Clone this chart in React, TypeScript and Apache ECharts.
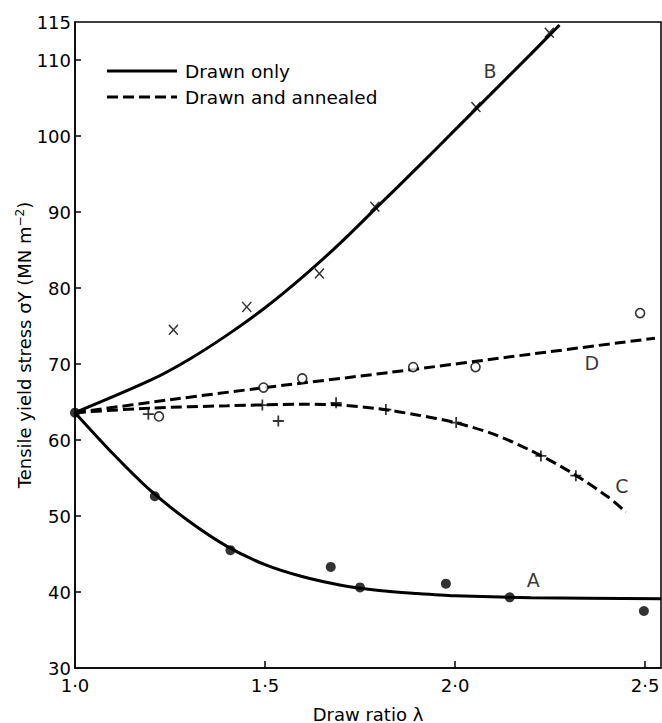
import React, { useEffect, useRef } from "react";
import * as echarts from "echarts";

// Curve (fitted line) samples
const curveAX = [1.0, 1.1, 1.2, 1.3, 1.4, 1.5, 1.6, 1.7, 1.8, 1.9, 2.0, 2.2, 2.542];
const curveAY = [63.6, 58.2, 53.3, 49.3, 46.0, 43.6, 42.0, 40.9, 40.2, 39.8, 39.5, 39.25, 39.1];
const curveBX = [1.0, 1.2, 1.3, 1.4, 1.5, 1.6, 1.7, 1.8, 1.9, 2.0, 2.1, 2.2, 2.275];
const curveBY = [63.6, 67.9, 70.6, 73.8, 77.4, 81.5, 86.0, 90.9, 95.8, 100.8, 105.8, 110.8, 114.6];
const curveCX = [1.0, 1.2, 1.4, 1.6, 1.7, 1.8, 1.9, 2.0, 2.1, 2.2, 2.3, 2.4, 2.45];
const curveCY = [63.6, 64.2, 64.5, 64.7, 64.6, 64.1, 63.3, 62.3, 60.8, 58.6, 55.9, 52.6, 50.5];
const curveDX = [1.0, 1.25, 1.5, 1.829, 2.2, 2.526];
const curveDY = [63.6, 65.3, 66.9, 68.9, 71.3, 73.4];

// Measured points
const pointsAX = [1.0, 1.21, 1.409, 1.673, 1.75, 1.976, 2.144, 2.497];
const pointsAY = [63.6, 52.6, 45.5, 43.3, 40.6, 41.1, 39.3, 37.5];
const pointsBX = [1.259, 1.452, 1.643, 1.789, 2.055, 2.248];
const pointsBY = [74.5, 77.5, 81.9, 90.7, 103.8, 113.6];
const pointsCX = [1.193, 1.493, 1.535, 1.687, 1.818, 2.003, 2.226, 2.318];
const pointsCY = [63.4, 64.6, 62.5, 64.9, 64.0, 62.3, 57.9, 55.3];
const pointsDX = [1.221, 1.496, 1.598, 1.89, 2.054, 2.487];
const pointsDY = [63.1, 66.9, 68.1, 69.6, 69.6, 76.7];

// Curve letter labels
const letterNames = ["A", "B", "C", "D"];
const letterX = [2.206, 2.092, 2.439, 2.36];
const letterY = [41.6, 108.5, 53.9, 70.1];

const xLabelValues = [1.0, 1.5, 2.0, 2.5];
const xTickValues = [1.5, 2.0, 2.5];
const yLabelValues = [30, 40, 50, 60, 70, 80, 90, 100, 110, 115];
const yTickValues = [40, 50, 60, 70, 80, 90, 100, 110];

const legendNames = ["Drawn only", "Drawn and annealed"];

const FONT = "DejaVu Sans";
const DASH = [11, 5];

const zip = (xs: number[], ys: number[]) => xs.map((x, i) => [x, ys[i]]);

const CROSS = "path://M1,0L5,4L9,0L10,1L6,5L10,9L9,10L5,6L1,10L0,9L4,5L0,1Z";
const PLUS = "path://M4.2,0H5.8V4.2H10V5.8H5.8V10H4.2V5.8H0V4.2H4.2Z";

export default function App() {
  const ref = useRef<HTMLDivElement>(null);
  useEffect(() => {
    if (!ref.current) return;
    const chart = echarts.init(ref.current, null, { renderer: "svg" });
    const lineBase = (name: string, xs: number[], ys: number[], dashed: boolean) => ({
      name,
      type: "line",
      data: zip(xs, ys),
      showSymbol: false,
      symbol: "none",
      smooth: 0.3,
      lineStyle: { color: "#000", width: 3, type: dashed ? DASH : "solid" },
      itemStyle: { color: "#000" },
      z: 2,
      silent: true,
    });
    const legendRow = (y: number, text: string, dashed: boolean) => [
      {
        type: "line",
        shape: { x1: 107, y1: y, x2: 177, y2: y },
        style: { stroke: "#000", lineWidth: 3, lineDash: dashed ? DASH : null },
      },
      {
        type: "text",
        x: 185,
        y: y,
        style: {
          text,
          fill: "#000",
          fontSize: 18.5,
          fontFamily: FONT,
          verticalAlign: "middle",
          align: "left",
        },
      },
    ];
    const option: any = {
      animation: false,
      backgroundColor: "#fff",
      grid: {
        left: 75,
        right: 1,
        top: 22,
        bottom: 55,
        outerBoundsMode: "none",
        containLabel: false,
        show: true,
        borderColor: "#000",
        borderWidth: 1.5,
        backgroundColor: "transparent",
      },
      graphic: [...legendRow(71, legendNames[0], false), ...legendRow(97, legendNames[1], true)],
      xAxis: {
        type: "value",
        min: 1.0,
        max: 2.542,
        name: "Draw ratio λ",
        nameLocation: "middle",
        nameGap: 37,
        nameMoveOverlap: false,
        nameTextStyle: { fontSize: 18, color: "#000", fontFamily: FONT },
        axisLine: { show: true, lineStyle: { color: "#000", width: 1.5 } },
        axisTick: {
          show: true,
          inside: true,
          length: 7,
          customValues: xTickValues,
          lineStyle: { color: "#000", width: 1.5 },
        },
        axisLabel: {
          customValues: xLabelValues,
          formatter: (v: number) => v.toFixed(1).replace(".", "·"),
          color: "#000",
          fontSize: 18,
          fontFamily: FONT,
          margin: 8,
        },
        splitLine: { show: false },
      },
      yAxis: {
        type: "value",
        min: 30,
        max: 115,
        name: "Tensile yield stress σY (MN m{sup|−2})",
        nameLocation: "middle",
        nameGap: 41,
        nameMoveOverlap: false,
        nameRotate: 90,
        nameTextStyle: {
          fontSize: 18,
          color: "#000",
          fontFamily: FONT,
          rich: {
            sup: { fontSize: 12, color: "#000", fontFamily: FONT, verticalAlign: "top", padding: [0, 0, 8, 0] },
          },
        },
        axisLine: { show: true, lineStyle: { color: "#000", width: 1.5 } },
        axisTick: {
          show: true,
          inside: true,
          length: 6,
          customValues: yTickValues,
          lineStyle: { color: "#000", width: 1.5 },
        },
        axisLabel: {
          customValues: yLabelValues,
          color: "#000",
          fontSize: 18,
          fontFamily: FONT,
          margin: 4,
        },
        splitLine: { show: false },
      },
      series: [
        lineBase(legendNames[0], curveAX, curveAY, false),
        lineBase(legendNames[0], curveBX, curveBY, false),
        lineBase(legendNames[1], curveCX, curveCY, true),
        lineBase(legendNames[1], curveDX, curveDY, true),
        {
          name: "A points",
          type: "scatter",
          data: zip(pointsAX, pointsAY),
          symbol: "circle",
          symbolSize: 10,
          itemStyle: { color: "#000" },
          z: 5,
        },
        {
          name: "B points",
          type: "scatter",
          data: zip(pointsBX, pointsBY),
          symbol: CROSS,
          symbolSize: [10, 11],
          itemStyle: { color: "#000" },
          z: 5,
        },
        {
          name: "C points",
          type: "scatter",
          data: zip(pointsCX, pointsCY),
          symbol: PLUS,
          symbolSize: 11,
          itemStyle: { color: "#000" },
          z: 5,
        },
        {
          name: "D points",
          type: "scatter",
          data: zip(pointsDX, pointsDY),
          symbol: "circle",
          symbolSize: 9,
          itemStyle: { color: "#fff", borderColor: "#000", borderWidth: 1.6 },
          z: 5,
        },
        {
          name: "curve letters",
          type: "scatter",
          data: letterNames.map((n, i) => [letterX[i], letterY[i], n]),
          symbolSize: 1,
          itemStyle: { color: "rgba(0,0,0,0)" },
          label: {
            show: true,
            position: "inside",
            formatter: (p: any) => p.value[2],
            fontSize: 19,
            color: "#000",
            textBorderWidth: 0,
            fontFamily: FONT,
          },
          z: 6,
        },
      ],
    };
    chart.setOption(option);
    return () => chart.dispose();
  }, []);
  return (
    <div
      ref={ref}
      style={{ position: "absolute", left: 0, top: 0, width: 662, height: 723, background: "#fff" }}
    />
  );
}
